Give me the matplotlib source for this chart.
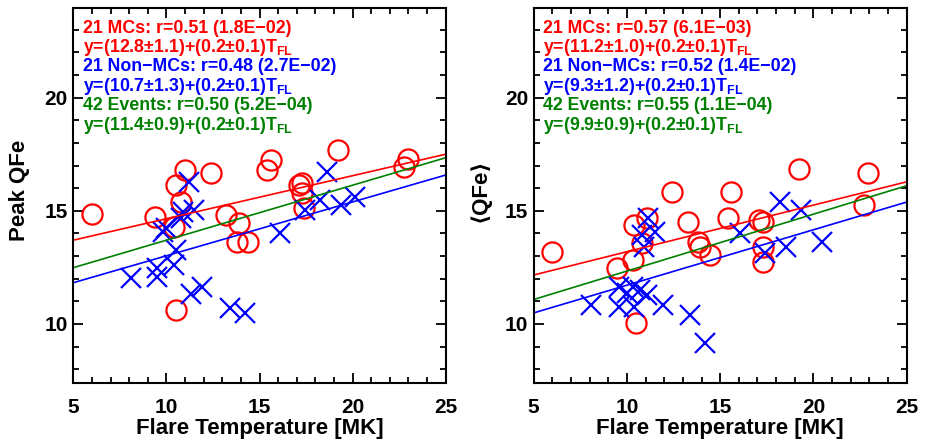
import matplotlib
matplotlib.use("Agg")
import matplotlib.pyplot as plt
import numpy as np
from matplotlib.ticker import MultipleLocator

plt.rcParams['font.family'] = ['Liberation Sans', 'DejaVu Sans']
plt.rcParams['font.weight'] = 'bold'
plt.rcParams['mathtext.fontset'] = 'custom'
plt.rcParams['mathtext.rm'] = 'Liberation Sans:bold'
plt.rcParams['mathtext.bf'] = 'Liberation Sans:bold'
plt.rcParams['mathtext.it'] = 'Liberation Sans:bold'

# flare temperature (MK) vs peak QFe
mc_t_peak = [6.0, 9.4, 10.4, 10.5, 10.8, 11.0, 12.4, 10.5, 13.2, 13.9, 13.8,
             14.4, 15.4, 15.6, 17.1, 17.3, 17.3, 17.4, 19.2, 22.95, 22.75]
mc_q_peak = [14.86, 14.74, 14.27, 16.14, 15.4, 16.81, 16.66, 10.61, 14.81, 14.45, 13.63,
             13.63, 16.81, 17.25, 16.14, 16.22, 15.77, 15.11, 17.69, 17.28, 16.95]
nmc_t_peak = [8.1, 9.5, 9.5, 10.4, 10.5, 9.8, 10.0, 10.8, 10.9, 11.5, 11.2,
              11.3, 11.9, 13.4, 14.2, 16.1, 17.45, 18.25, 18.6, 19.4, 20.15]
nmc_q_peak = [12.01, 12.08, 12.46, 12.6, 13.27, 14.08, 14.23, 14.67, 14.96, 15.04, 16.29,
              11.3, 11.64, 10.69, 10.5, 14.0, 15.04, 15.48, 16.73, 15.26, 15.62]

# flare temperature (MK) vs mean QFe
mc_t_mean = [6.0, 9.45, 10.3, 10.4, 10.8, 11.05, 10.5, 12.4, 13.3, 13.8, 13.9,
             14.45, 15.4, 15.6, 17.1, 17.3, 17.3, 17.3, 19.2, 22.9, 22.7]
mc_q_mean = [13.19, 12.46, 12.82, 14.37, 13.56, 14.67, 10.02, 15.85, 14.52, 13.63, 13.41,
             13.04, 14.67, 15.85, 14.59, 14.52, 13.41, 12.75, 16.85, 16.66, 15.26]
nmc_t_mean = [8.1, 9.6, 9.6, 10.0, 10.4, 10.35, 10.7, 11.05, 11.95, 13.4, 14.2,
              11.15, 10.8, 10.9, 11.5, 16.05, 17.4, 18.2, 18.55, 19.35, 20.45]
nmc_q_mean = [10.83, 11.64, 10.76, 11.35, 10.76, 11.64, 11.5, 11.27, 10.83, 10.39, 9.14,
              14.67, 13.93, 13.41, 14.08, 14.0, 13.12, 15.4, 13.41, 15.04, 13.63]

# fitted lines: intercept, slope (MCs, Non-MCs, all)
fit_peak = [(12.75, 0.19), (10.63, 0.238), (11.27, 0.243)]
fit_mean = [(11.13, 0.206), (9.26, 0.245), (9.82, 0.2515)]

text_peak = ["21 MCs: r=0.51 (1.8E\u221202)",
             "y=(12.8\u00b11.1)+(0.2\u00b10.1)T$_{\\rm FL}$",
             "21 Non\u2212MCs: r=0.48 (2.7E\u221202)",
             "y=(10.7\u00b11.3)+(0.2\u00b10.1)T$_{\\rm FL}$",
             "42 Events: r=0.50 (5.2E\u221204)",
             "y=(11.4\u00b10.9)+(0.2\u00b10.1)T$_{\\rm FL}$"]
text_mean = ["21 MCs: r=0.57 (6.1E\u221203)",
             "y=(11.2\u00b11.0)+(0.2\u00b10.1)T$_{\\rm FL}$",
             "21 Non\u2212MCs: r=0.52 (1.4E\u221202)",
             "y=(9.3\u00b11.2)+(0.2\u00b10.1)T$_{\\rm FL}$",
             "42 Events: r=0.55 (1.1E\u221204)",
             "y=(9.9\u00b10.9)+(0.2\u00b10.1)T$_{\\rm FL}$"]

red, blue, green = '#ff0000', '#0000ff', '#008000'
text_colors = [red, red, blue, blue, green, green]

fig = plt.figure(figsize=(9.27, 4.43), dpi=100)
ax1 = fig.add_axes([0.0791, 0.1361, 0.4017, 0.8452])
ax2 = fig.add_axes([0.5757, 0.1361, 0.4024, 0.8452])

panels = [
    (ax1, mc_t_peak, mc_q_peak, nmc_t_peak, nmc_q_peak, fit_peak, text_peak, 'Peak QFe'),
    (ax2, mc_t_mean, mc_q_mean, nmc_t_mean, nmc_q_mean, fit_mean, text_mean, '\u27e8QFe\u27e9'),
]

xx = np.array([5, 25])
for ax, mt, mq, nt, nq, fits, texts, ylab in panels:
    ax.plot(mt, mq, 'o', ms=14.5, mfc='none', mec=red, mew=1.6, clip_on=False)
    ax.plot(nt, nq, 'x', ms=15, mec=blue, mew=1.6, clip_on=False)
    for (a, b), c in zip(fits, [red, blue, green]):
        ax.plot(xx, a + b * xx, color=c, lw=1.2)
    ax.set_xlim(5, 25)
    ax.set_ylim(7.4, 23.95)
    ax.xaxis.set_major_locator(MultipleLocator(5))
    ax.xaxis.set_minor_locator(MultipleLocator(1))
    ax.yaxis.set_major_locator(MultipleLocator(5))
    ax.yaxis.set_minor_locator(MultipleLocator(1))
    ax.tick_params(which='both', direction='in', top=True, right=True,
                   labelsize=15, width=1.3)
    ax.tick_params(axis='x', pad=11)
    ax.tick_params(axis='y', pad=4)
    ax.tick_params(which='major', length=7)
    ax.tick_params(which='minor', length=4)
    for s in ax.spines.values():
        s.set_linewidth(1.5)
    for lab in ax.get_xticklabels() + ax.get_yticklabels():
        lab.set_fontweight('bold')
    ax.set_xlabel('Flare Temperature [MK]', fontsize=16, fontweight='bold')
    ax.xaxis.label.set_va('center')
    ax.xaxis.set_label_coords(0.5, -0.121)
    ax.set_ylabel(ylab, fontsize=16, fontweight='bold')
    ax.yaxis.label.set_va('center')
    ax.yaxis.set_label_coords(-0.145, 0.515)
    for i, (t, c) in enumerate(zip(texts, text_colors)):
        ax.text(0.026, 0.947 - i * 0.0518, t, transform=ax.transAxes, color=c,
                fontsize=12.8, fontweight='bold', va='center', ha='left')

fig.savefig('out.png', dpi=100)
